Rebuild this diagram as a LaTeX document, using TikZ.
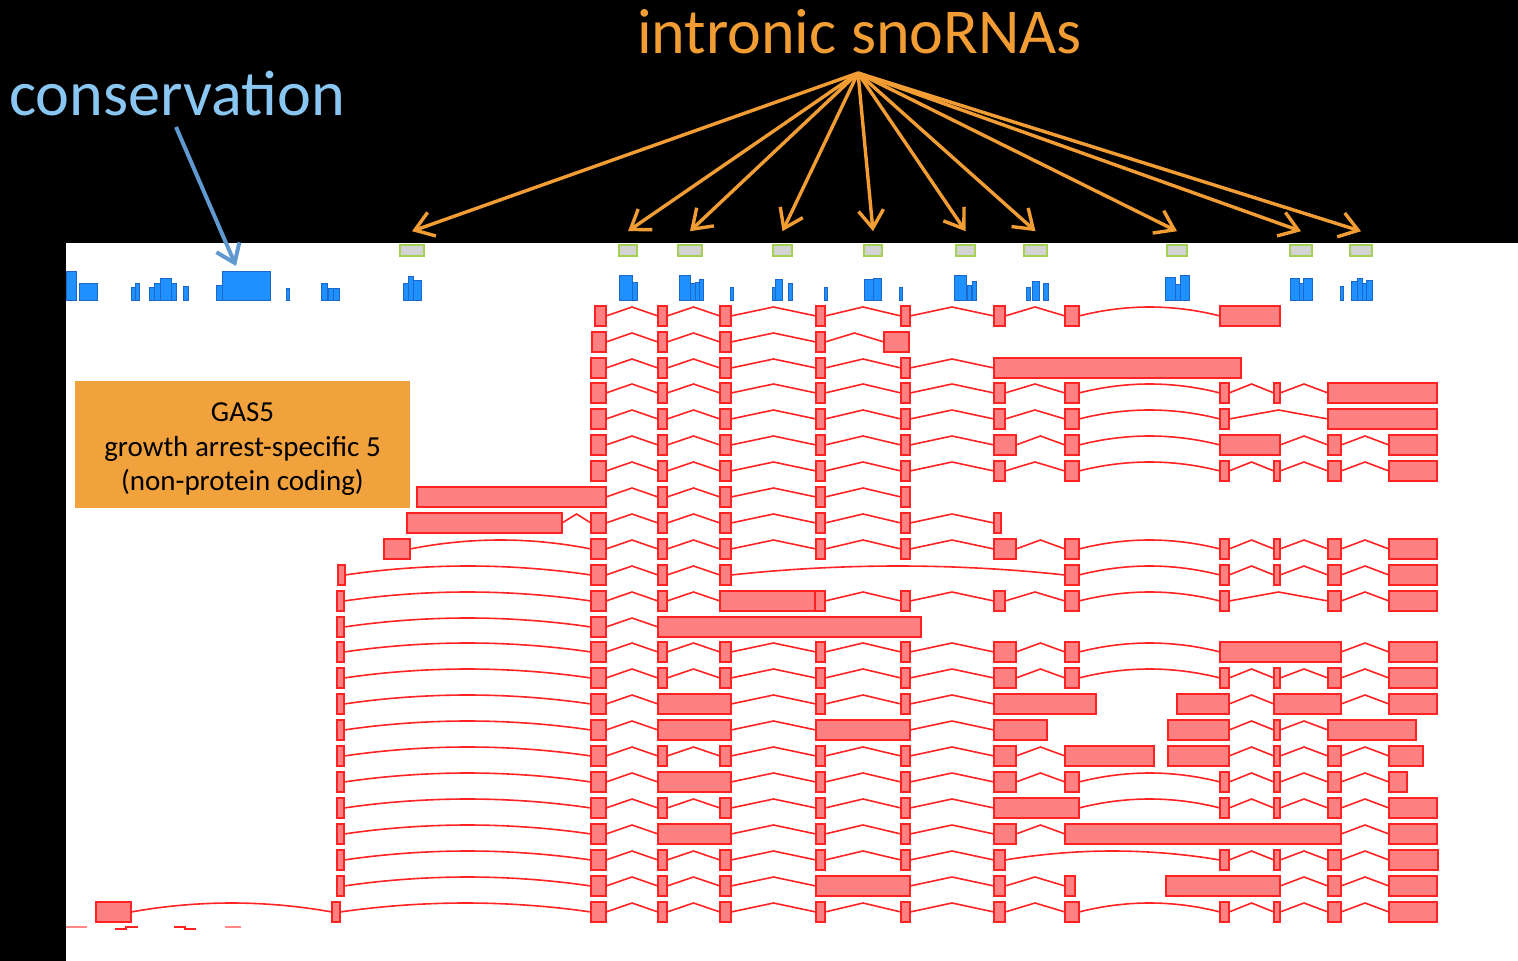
\documentclass[tikz,border=0pt]{standalone}
\usepackage{fontspec}
\setmainfont{Carlito}
\usetikzlibrary{arrows.meta}

\definecolor{exfill}{RGB}{255,128,128}
\definecolor{exline}{RGB}{255,35,35}
\definecolor{snoorange}{RGB}{241,157,52}
\definecolor{gasorange}{RGB}{241,162,60}
\definecolor{consblue}{RGB}{138,198,242}
\definecolor{arrowblue}{RGB}{96,152,208}
\definecolor{barfill}{RGB}{30,144,255}
\definecolor{barline}{RGB}{28,104,200}
\definecolor{snofill}{RGB}{211,211,211}
\definecolor{snoline}{RGB}{164,208,84}

\tikzset{
  exon/.style={draw=exline, fill=exfill, line width=1.6pt},
  intron/.style={draw=exline, line width=1.6pt},
  consbar/.style={draw=barline, fill=barfill, line width=1pt},
  snobox/.style={draw=snoline, fill=snofill, line width=1.6pt, inner sep=0pt},
  snoarrow/.style={draw=snoorange, line width=3.4pt, -{Straight Barb[length=18pt,width=25pt]}},
  consarrow/.style={draw=arrowblue, line width=4pt, -{Straight Barb[length=17pt,width=25pt]}},
}

% exon columns (left/right edge)
\def\colA{591/606}
\def\colB{658/667}
\def\colC{720/731}
\def\colD{816/825}
\def\colE{901/910}
\def\colF{994/1005}
\def\colFw{994/1016}
\def\colG{1065/1079}
\def\colH{1220/1229}
\def\colI{1274/1280}
\def\colJ{1328/1341}
\def\colK{1389/1437}
\def\colL{337/344}

% intron between two exons: chevron when short, arc when long
\newcommand\intr[3]{%
  \pgfmathtruncatemacro\intrlong{(#2-#1)>120}%
  \ifnum\intrlong=1
    \draw[intron] (#1,#3) parabola bend ({(#1+#2)/2},{#3-9}) (#2,#3);
  \else
    \draw[intron] (#1,#3) -- ({(#1+#2)/2},{#3-9}) -- (#2,#3);
  \fi}

% one transcript: exons joined by introns
\def\txnone{none}
\newcommand\tx[2]{%
  \gdef\txprev{none}%
  \edef\txlist{#2}%
  \foreach \a/\b in \txlist {%
    \ifx\txprev\txnone\else\intr{\txprev}{\a}{#1}\fi
    \draw[exon] (\a,{#1-10}) rectangle (\b,{#1+10});
    \xdef\txprev{\b}%
  }}

\begin{document}
\begin{tikzpicture}[x=1pt,y=-1pt]
\useasboundingbox (0,0) rectangle (1518,961);
\fill[black] (0,0) rectangle (1518,961);
\fill[white] (66,243) rectangle (1518,961);

% titles
\node[anchor=base west, inner sep=0pt, text=consblue, font=\fontsize{64.2}{70}\selectfont] (constitle) at (9,115) {conservation};
\node[anchor=base west, inner sep=0pt, text=snoorange, font=\fontsize{64}{70}\selectfont] (snotitle) at (637,53) {intronic snoRNAs};

% conservation track
\foreach \l/\r/\t in {66/76/271, 79/97/283, 131/135/287, 135/139/283, 149/154/287, 154/160/283,
  160/171/278, 171/176/283, 183/188/286, 216/222/285, 222/270/271, 286/289/288, 321/327/283,
  328/333/288, 333/339/288, 403/408/283, 408/413/276, 413/421/280, 619/632/275, 632/637/282,
  679/690/275, 690/695/283, 695/699/282, 699/703/279, 730/733/287, 772/775/287, 775/782/279,
  788/792/283, 824/827/287, 864/873/279, 873/881/278, 899/902/287, 954/966/275, 967/971/285,
  972/976/281, 1026/1030/287, 1032/1039/281, 1043/1048/283, 1165/1175/277, 1175/1180/284,
  1180/1189/275, 1290/1299/278, 1299/1303/283, 1303/1312/278, 1340/1343/286, 1351/1357/281,
  1357/1362/278, 1362/1366/283, 1366/1372/280}
  \draw[consbar] (\l,\t) rectangle (\r,300);

% snoRNA track
\foreach \n/\c/\w in {1/412/24, 2/628/18, 3/690/24, 4/782.5/19, 5/873/18,
  6/965.5/19, 7/1035.5/23, 8/1177/20, 9/1301/22, 10/1361/22}
  \node[snobox, minimum width=\w pt, minimum height=11pt] (s\n) at (\c,250.5) {};

% arrows
\coordinate (apex) at (858,73);
\foreach \n in {1,...,10}
  \draw[snoarrow] (apex) -- ([yshift=13pt]s\n.north);
\coordinate (consfoot) at (176,127);
\coordinate (constip) at (236,266);
\draw[consarrow] (consfoot) -- (constip);

% gene label
\node[fill=gasorange, minimum width=335pt, minimum height=127pt] (gas) at (242.5,444.5) {};
\node[align=center, font=\fontsize{29}{34.5}\selectfont, text=black] (gastext)
  at ([yshift=-5pt]gas.center) {GAS5\\growth arrest-specific 5\\(non-protein coding)};

% transcripts
\tx{316}{595/606,\colB,\colC,\colD,\colE,\colF,\colG,1220/1280}
\tx{342}{592/606,\colB,\colC,\colD,884/909}
\tx{368}{\colA,\colB,\colC,\colD,\colE,994/1241}
\tx{393}{\colA,\colB,\colC,\colD,\colE,\colF,\colG,\colH,\colI,1328/1437}
\tx{419}{\colA,\colB,\colC,\colD,\colE,\colF,\colG,\colH,1328/1437}
\tx{445}{\colA,\colB,\colC,\colD,\colE,\colFw,\colG,1220/1280,\colJ,\colK}
\tx{471}{\colA,\colB,\colC,\colD,\colE,\colF,\colG,\colH,\colI,\colJ,\colK}
\tx{497}{417/606,\colB,\colC,\colD,\colE}
\tx{523}{407/562,\colA,\colB,\colC,\colD,\colE,994/1001}
\tx{549}{384/410,\colA,\colB,\colC,\colD,\colE,\colFw,\colG,\colH,\colI,\colJ,\colK}
\tx{575}{338/345,\colA,\colB,\colC,\colG,\colH,\colI,\colJ,\colK}
\tx{601}{\colL,\colA,\colB,720/815}
\tx{601}{815/825,\colE,\colF,\colG,\colH,\colJ,\colK}
\tx{627}{\colL,\colA,658/921}
\tx{652}{\colL,\colA,\colB,\colC,\colD,\colE,\colFw,\colG,1220/1341,\colK}
\tx{678}{\colL,\colA,\colB,\colC,\colD,\colE,\colFw,\colG,\colH,\colI,\colJ,\colK}
\tx{704}{\colL,\colA,658/731,\colD,\colE,994/1096}
\tx{704}{1177/1229,1274/1341,\colK}
\tx{730}{\colL,\colA,658/731,816/910,994/1047}
\tx{730}{1168/1229,\colI,1328/1416}
\tx{756}{\colL,\colA,\colB,\colC,\colD,\colE,\colFw,1065/1154}
\tx{756}{1168/1229,\colI,\colJ,1389/1423}
\tx{782}{\colL,\colA,658/731,\colD,\colE,\colFw,\colG,\colH,\colI,\colJ,1389/1407}
\tx{808}{\colL,\colA,\colB,\colC,\colD,\colE,994/1079,\colH,\colI,\colJ,\colK}
\tx{834}{\colL,\colA,658/731,\colD,\colE,\colFw,1065/1341,\colK}
\tx{860}{\colL,\colA,\colB,\colC,\colD,\colE,\colF,\colH,\colI,\colJ,1389/1438}
\tx{886}{\colL,\colA,\colB,\colC,816/910,\colF,1065/1075}
\tx{886}{1166/1280,\colJ,\colK}
\tx{912}{96/131,332/340,\colA,\colB,\colC,\colD,\colE,\colF,\colG,\colH,\colI,\colJ,\colK}

% faint fragments under the last transcript
\draw[exline!55, line width=2.5pt] (66,927) -- (87,927);
\draw[intron] (115,929) -- (126,929) -- (126,927) -- (138,927);
\draw[intron] (174,927) -- (185,927) -- (185,929) -- (196,929);
\draw[exline!55, line width=2.5pt] (225,927) -- (241,927);
\end{tikzpicture}
\end{document}
